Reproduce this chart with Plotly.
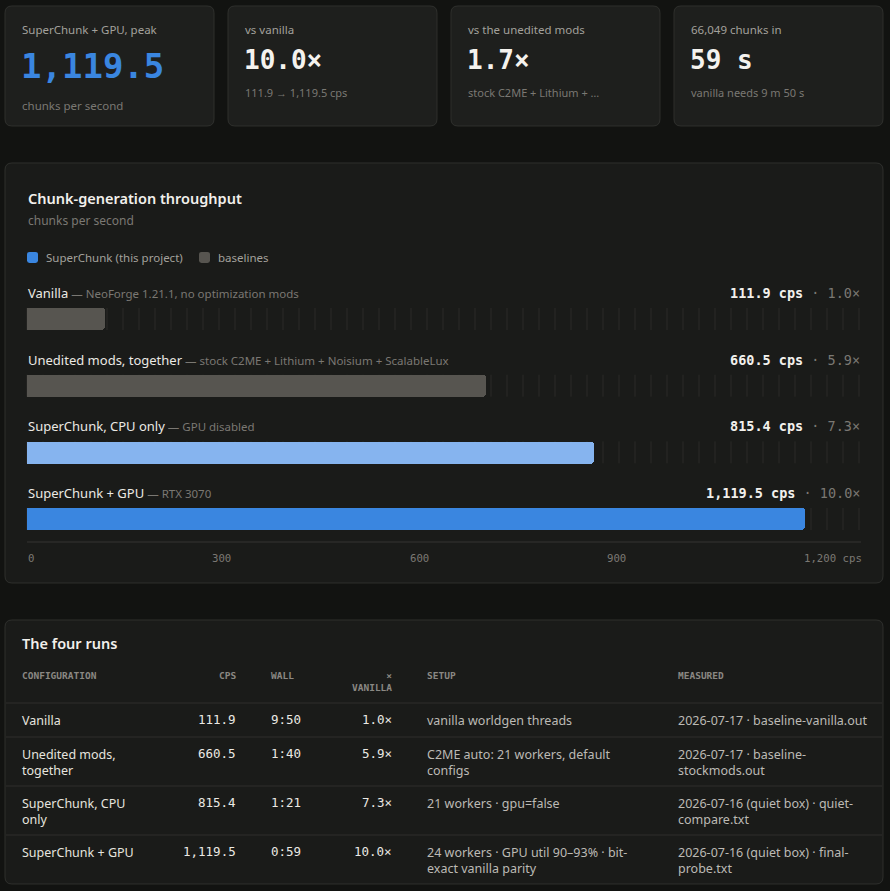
import plotly.graph_objects as go

# ---------------- data ----------------
configs = ["Vanilla", "Unedited mods, together", "SuperChunk, CPU only", "SuperChunk + GPU"]
notes = ["NeoForge 1.21.1, no optimization mods",
         "stock C2ME + Lithium + Noisium + ScalableLux",
         "GPU disabled", "RTX 3070"]
cps = [111.9, 660.5, 815.4, 1119.5]
groups = ["baseline", "baseline", "superchunk-cpu", "superchunk-gpu"]
wall = ["9:50", "1:40", "1:21", "0:59"]
table_configs = ["Vanilla", "Unedited mods,<br>together", "SuperChunk, CPU<br>only", "SuperChunk + GPU"]
setup = ["vanilla worldgen threads",
         "C2ME auto: 21 workers, default<br>configs",
         "21 workers · gpu=false",
         "24 workers · GPU util 90–93% · bit-<br>exact vanilla parity"]
measured = ["2026-07-17 · baseline-vanilla.out",
            "2026-07-17 · baseline-<br>stockmods.out",
            "2026-07-16 (quiet box) · quiet-<br>compare.txt",
            "2026-07-16 (quiet box) · final-<br>probe.txt"]
axis_ticks = [0, 300, 600, 900, 1200]
axis_unit = "cps"
legend_items = [("SuperChunk (this project)", "superchunk-gpu"), ("baselines", "baseline")]

kpi_labels = ["SuperChunk + GPU, peak", "vs vanilla", "vs the unedited mods", "66,049 chunks in"]
kpi_values = ["1,119.5", "10.0×", "1.7×", "59 s"]
kpi_subs = ["chunks per second", "111.9 → 1,119.5 cps", "stock C2ME + Lithium + …", "vanilla needs 9 m 50 s"]

table_headers = ["CONFIGURATION", "CPS", "WALL", "×<br>VANILLA", "SETUP", "MEASURED"]

# ---------------- style ----------------
W, H = 890, 891
PAGE = "#121311"
KPI_BG = "#1e1f1d"
CARD_BG = "#1a1b19"
BORDER = "#2f302d"
TXT = "#ebe9e4"
TXT2 = "#bcbab5"
DIM = "#a3a19c"
FAINT = "#7a7873"
GRID = "#2a2b28"
COLORS = {"baseline": "#575550", "superchunk-cpu": "#86b4ef", "superchunk-gpu": "#3a86e0"}
SANS = "Noto Sans"
MONO = "DejaVu Sans Mono"


def px(x):
    return x / W


def py(y):
    return 1 - y / H


def rrect(x0, y0, x1, y1, r):
    pts = []
    def P(x, y):
        return f"{px(x):.5f},{py(y):.5f}"
    s = (f"M {P(x0 + r, y0)} L {P(x1 - r, y0)} Q {P(x1, y0)} {P(x1, y0 + r)} "
         f"L {P(x1, y1 - r)} Q {P(x1, y1)} {P(x1 - r, y1)} L {P(x0 + r, y1)} "
         f"Q {P(x0, y1)} {P(x0, y1 - r)} L {P(x0, y0 + r)} Q {P(x0, y0)} {P(x0 + r, y0)} Z")
    return s


shapes = []
annotations = []


def card(x0, y0, x1, y1, fill, r=7):
    shapes.append(dict(type="path", path=rrect(x0, y0, x1, y1, r), xref="paper", yref="paper",
                       fillcolor=fill, line=dict(color=BORDER, width=1), layer="below"))


def ann(x, y, text, size=12, color=TXT, family=SANS, xanchor="left", yanchor="middle",
        align="left", yref="paper", weight=None):
    f = dict(size=size, color=color, family=family)
    if weight:
        f["weight"] = weight
    annotations.append(dict(x=px(x), y=(py(y) if yref == "paper" else y), xref="paper", yref=yref,
                            text=text, showarrow=False, xanchor=xanchor, yanchor=yanchor,
                            align=align, font=f, borderpad=0))


# ---------------- KPI cards ----------------
for k in range(4):
    x0 = 5 + k * 223
    card(x0, 6, x0 + 209, 126, KPI_BG)
    ann(x0 + 16, 30, kpi_labels[k], size=11.5, color=DIM)
    if k == 0:
        ann(x0 + 15, 66, kpi_values[k], size=34, color=COLORS["superchunk-gpu"], family=MONO, weight="bold")
        ann(x0 + 16, 105, kpi_subs[k], size=11.5, color=FAINT)
    else:
        ann(x0 + 15, 60, kpi_values[k], size=26, color="#f4f2ee", family=MONO, weight="bold")
        ann(x0 + 16, 93, kpi_subs[k], size=11, color=FAINT)

# ---------------- chart card ----------------
card(5, 163, 883, 583, CARD_BG)
ann(27, 198, "Chunk-generation throughput", size=14.5, color="#f2f0ec", weight=600)
ann(27, 221, "chunks per second", size=12, color=FAINT)

lx = 27
for name, grp in legend_items:
    shapes.append(dict(type="path", path=rrect(lx, 252, lx + 11, 263, 2.5), xref="paper", yref="paper",
                       fillcolor=COLORS[grp], line=dict(width=0), layer="below"))
    ann(lx + 18, 257.5, name, size=11.5, color=DIM)
    lx += 172

TRACK_X0, TRACK_X1 = 27, 861
ROW_Y0, ROW_STEP = 319, 66.67
n = len(cps)
y_top = ROW_Y0 - ROW_STEP / 2
y_bot = ROW_Y0 + (n - 1) * ROW_STEP + ROW_STEP / 2
BAR_W = 22 / ROW_STEP

# track tick marks (decorative CSS-like stripes)
for i in range(n):
    xx = TRACK_X0
    while xx <= TRACK_X1 - 1:
        shapes.append(dict(type="line", xref="paper", yref="y", x0=px(xx), x1=px(xx),
                           y0=i - BAR_W / 2, y1=i + BAR_W / 2, line=dict(color=GRID, width=1),
                           layer="below"))
        xx += 16

fig = go.Figure()
fig.add_trace(go.Bar(
    x=cps, y=list(range(n)), orientation="h", width=BAR_W,
    marker=dict(color=[COLORS[g] for g in groups], line=dict(width=0), cornerradius=3),
    hoverinfo="skip", showlegend=False,
))

base = cps[0]
for i in range(n):
    left = (f"<span style='font-size:13px;color:{TXT}'>{configs[i]}</span>"
            f"<span style='font-size:11.5px;color:{FAINT}'> — {notes[i]}</span>")
    ann(TRACK_X0, i - 26 / ROW_STEP, left, size=13, yref="y")
    right = (f"<b>{cps[i]:,.1f} cps</b>"
             f"<span style='color:{FAINT};font-weight:normal'> · {cps[i] / base:.1f}×</span>")
    ann(TRACK_X1, i - 26 / ROW_STEP, right, size=13.5, family=MONO, color="#f2f0ec",
        xanchor="right", yref="y")

# axis baseline
shapes.append(dict(type="line", xref="paper", yref="paper", x0=px(TRACK_X0), x1=px(TRACK_X1),
                   y0=py(542), y1=py(542), line=dict(color="#343532", width=1)))
# axis labels laid out like flex space-between
tick_texts = [f"{t:,}" for t in axis_ticks]
tick_texts[-1] = tick_texts[-1] + " " + axis_unit
CW = 6.45
widths = [len(t) * CW for t in tick_texts]
gap = (TRACK_X1 - TRACK_X0 - sum(widths)) / (len(tick_texts) - 1)
xx = TRACK_X0
for t, w in zip(tick_texts, widths):
    ann(xx, 558, t, size=10.7, family=MONO, color=FAINT)
    xx += w + gap

# ---------------- table card ----------------
card(5, 620, 883, 884, CARD_BG)
ann(21, 643, "The four runs", size=14.5, color="#f2f0ec", weight=600)

col_x = [21, 237, 270, 393, 426, 677]
col_anchor = ["left", "right", "left", "right", "left", "left"]
for j, h in enumerate(table_headers):
    ann(col_x[j], 668.5, h, size=9.5, family=MONO, color="#8a8883", weight="bold",
        xanchor=col_anchor[j], yanchor="top", align=col_anchor[j])

row_lines = [703, 737, 786, 835]
for yl in row_lines:
    shapes.append(dict(type="line", xref="paper", yref="paper", x0=px(6), x1=px(882),
                       y0=py(yl), y1=py(yl), line=dict(color="#2e2f2c", width=1)))

for i in range(n):
    top = row_lines[i] + 8
    vals = [table_configs[i], f"{cps[i]:,.1f}", wall[i], f"{cps[i] / base:.1f}×", setup[i], measured[i]]
    fams = [SANS, MONO, MONO, MONO, SANS, SANS]
    cols = ["#e6e4df", "#ebe9e4", "#ebe9e4", "#ebe9e4", TXT2, TXT2]
    sizes = [12.5, 12.5, 12.5, 12.5, 12.5, 12.5]
    for j in range(6):
        ann(col_x[j], top, vals[j], size=sizes[j], family=fams[j], color=cols[j],
            xanchor=col_anchor[j], yanchor="top", align=col_anchor[j])

fig.update_layout(
    width=W, height=H, margin=dict(l=0, r=0, t=0, b=0),
    paper_bgcolor=PAGE, plot_bgcolor="rgba(0,0,0,0)",
    xaxis=dict(domain=[px(TRACK_X0), px(TRACK_X1)], range=[0, 1200], visible=False, fixedrange=True),
    yaxis=dict(domain=[py(y_bot), py(y_top)], range=[n - 0.5, -0.5], visible=False, fixedrange=True),
    shapes=shapes, annotations=annotations, showlegend=False, bargap=0,
)

fig.write_html("out.html", config={"displayModeBar": False})
